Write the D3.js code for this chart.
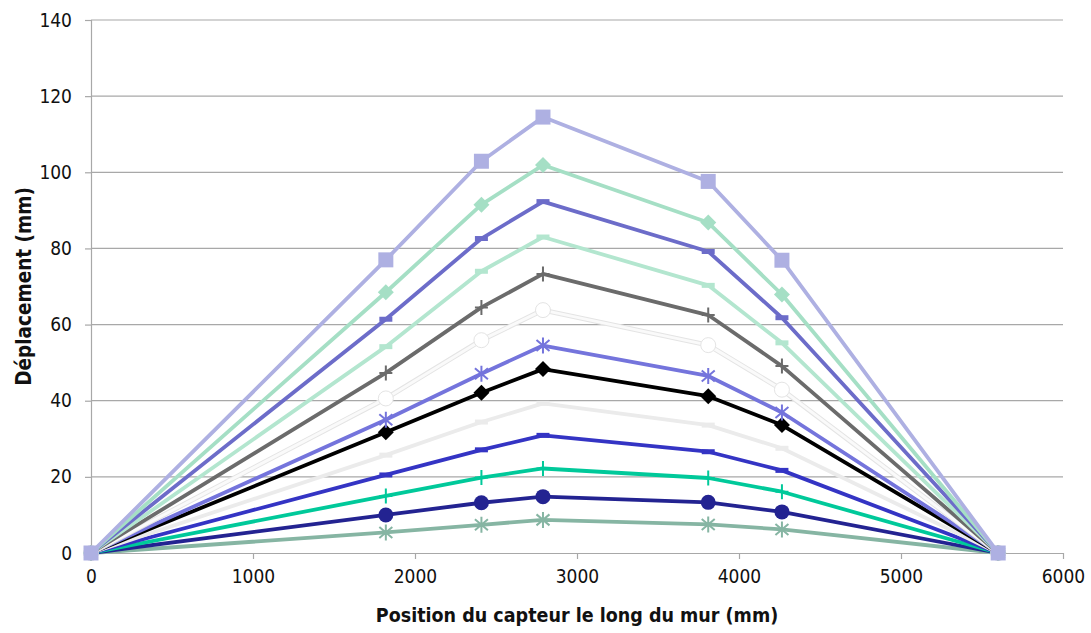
<!DOCTYPE html>
<html>
<head>
<meta charset="utf-8">
<script src="https://cdn.jsdelivr.net/npm/d3@7"></script>
<style>
  body { margin: 0; background: #fff; }
  text { font-family: "DejaVu Sans Condensed", "DejaVu Sans", sans-serif; font-stretch: condensed; }
</style>
</head>
<body>
<div class="chart"></div>
<script>
// positions of the sensors along the wall (mm)
var positions = [0, 1820, 2410, 2790, 3810, 4265, 5600];

// displacement per sensor (mm), one array per curve, top curve first
var serie1 = [0, 77.0, 102.9, 114.5, 97.6, 76.9, 0];
var serie2 = [0, 68.5, 91.5, 101.9, 86.8, 67.9, 0];
var serie3 = [0, 61.4, 82.6, 92.3, 79.2, 61.8, 0];
var serie4 = [0, 54.2, 74.0, 83.0, 70.3, 55.2, 0];
var serie5 = [0, 47.3, 64.5, 73.3, 62.5, 49.1, 0];
var serie6 = [0, 40.6, 55.9, 63.8, 54.6, 42.9, 0];
var serie7 = [0, 35.0, 47.1, 54.5, 46.5, 36.9, 0];
var serie8 = [0, 31.7, 42.1, 48.3, 41.2, 33.6, 0];
var serie9 = [0, 25.7, 34.4, 39.3, 33.6, 27.5, 0];
var serie10 = [0, 20.5, 27.1, 30.9, 26.6, 21.7, 0];
var serie11 = [0, 15.0, 19.8, 22.2, 19.7, 16.1, 0];
var serie12 = [0, 10.0, 13.2, 14.8, 13.3, 10.8, 0];
var serie13 = [0, 5.4, 7.4, 8.7, 7.5, 6.2, 0];

var xTicks = [0, 1000, 2000, 3000, 4000, 5000, 6000];
var yTicks = [0, 20, 40, 60, 80, 100, 120, 140];

// look of each curve (drawn bottom curve first so the top one sits above)
var styles = [
  { values: serie13, color: "#86b5a3", marker: "star" },
  { values: serie12, color: "#232391", marker: "circle" },
  { values: serie11, color: "#00c99a", marker: "plus" },
  { values: serie10, color: "#3434c4", marker: "dash" },
  { values: serie9, color: "#ebebeb", marker: "dash" },
  { values: serie8, color: "#000000", marker: "diamond" },
  { values: serie7, color: "#7474dc", marker: "star" },
  { values: serie6, color: "#fafafa", marker: "ring", halo: "#e4e4e4" },
  { values: serie5, color: "#6b6b6b", marker: "plus" },
  { values: serie4, color: "#b3e6cf", marker: "dash" },
  { values: serie3, color: "#6c6cc9", marker: "dash" },
  { values: serie2, color: "#a5dfc5", marker: "diamond" },
  { values: serie1, color: "#aeb0e2", marker: "square" }
];

var svgWidth = 1091;
var svgHeight = 633;
var margin = { top: 20, right: 28, bottom: 80, left: 91 };
var width = svgWidth - margin.left - margin.right;
var height = svgHeight - margin.top - margin.bottom;

var svg = d3.select(".chart")
  .append("svg")
  .attr("width", svgWidth)
  .attr("height", svgHeight);

var chartGroup = svg.append("g")
  .attr("transform", `translate(${margin.left}, ${margin.top})`);

var xScale = d3.scaleLinear().domain([0, 6000]).range([0, width]);
var yScale = d3.scaleLinear().domain([0, 140]).range([height, 0]);

// gridlines
chartGroup.append("g")
  .selectAll("line")
  .data(yTicks.slice(1))
  .join("line")
  .attr("x1", 0)
  .attr("x2", width)
  .attr("y1", d => yScale(d))
  .attr("y2", d => yScale(d))
  .attr("stroke", "#a8a8a8")
  .attr("stroke-width", 1.2);

// y axis
var yAxis = chartGroup.append("g")
  .call(d3.axisLeft(yScale).tickValues(yTicks).tickFormat(d3.format("d")).tickSize(6).tickPadding(13));
yAxis.selectAll("text").attr("font-size", 19).attr("fill", "#111")
  .attr("font-family", null);
yAxis.selectAll("line, path").attr("stroke", "#a8a8a8").attr("stroke-width", 1.2);

// x axis
var xAxis = chartGroup.append("g")
  .attr("transform", `translate(0, ${height})`)
  .call(d3.axisBottom(xScale).tickValues(xTicks).tickFormat(d3.format("d")).tickSize(6).tickSizeOuter(0).tickPadding(11));
xAxis.selectAll("text").attr("font-size", 19).attr("fill", "#111")
  .attr("font-family", null);
xAxis.selectAll("line, path").attr("stroke", "#a8a8a8").attr("stroke-width", 1.2);

// marker shapes
function markerPath(type) {
  switch (type) {
    case "square": return "M-7.5,-7.5H7.5V7.5H-7.5Z";
    case "diamond": return "M0,-8L8,0L0,8L-8,0Z";
    case "dash": return "M-6.5,-2.5H6.5V2.5H-6.5Z";
    case "plus": return "M0,-7.5V7.5M-6.5,0H6.5";
    case "star": return "M0,-8V8M-6.5,-5.5L6.5,5.5M-6.5,5.5L6.5,-5.5";
    default: return "";
  }
}

var line = d3.line()
  .x((d, i) => xScale(positions[i]))
  .y(d => yScale(d));

styles.forEach(function(s) {
  var g = chartGroup.append("g");
  if (s.halo) {
    g.append("path")
      .attr("d", line(s.values))
      .attr("fill", "none")
      .attr("stroke", s.halo)
      .attr("stroke-width", 5)
      .attr("stroke-linejoin", "round");
  }
  g.append("path")
    .attr("d", line(s.values))
    .attr("fill", "none")
    .attr("stroke", s.color)
    .attr("stroke-width", s.halo ? 3 : 3.8)
    .attr("stroke-linejoin", "round");

  var pts = g.selectAll(".pt")
    .data(s.values)
    .join("g")
    .attr("transform", (d, i) => `translate(${xScale(positions[i])}, ${yScale(d)})`);

  if (s.marker === "circle") {
    pts.append("circle").attr("r", 7.5).attr("fill", s.color);
  } else if (s.marker === "ring") {
    pts.append("circle").attr("r", 7.5).attr("fill", "#fff")
      .attr("stroke", s.halo).attr("stroke-width", 1);
  } else if (s.marker === "plus" || s.marker === "star") {
    pts.append("path").attr("d", markerPath(s.marker))
      .attr("fill", "none").attr("stroke", s.color).attr("stroke-width", 2);
  } else {
    pts.append("path").attr("d", markerPath(s.marker)).attr("fill", s.color);
  }
});

// axis titles
svg.append("text")
  .attr("x", margin.left + width / 2)
  .attr("y", 622)
  .attr("text-anchor", "middle")
  .attr("font-size", 19.5)
  .attr("font-weight", "bold")
  .attr("fill", "#111")
  .text("Position du capteur le long du mur (mm)");

svg.append("text")
  .attr("transform", `translate(31, ${margin.top + height / 2}) rotate(-90)`)
  .attr("text-anchor", "middle")
  .attr("font-size", 20.5)
  .attr("font-weight", "bold")
  .attr("fill", "#111")
  .text("Déplacement (mm)");
</script>
</body>
</html>
